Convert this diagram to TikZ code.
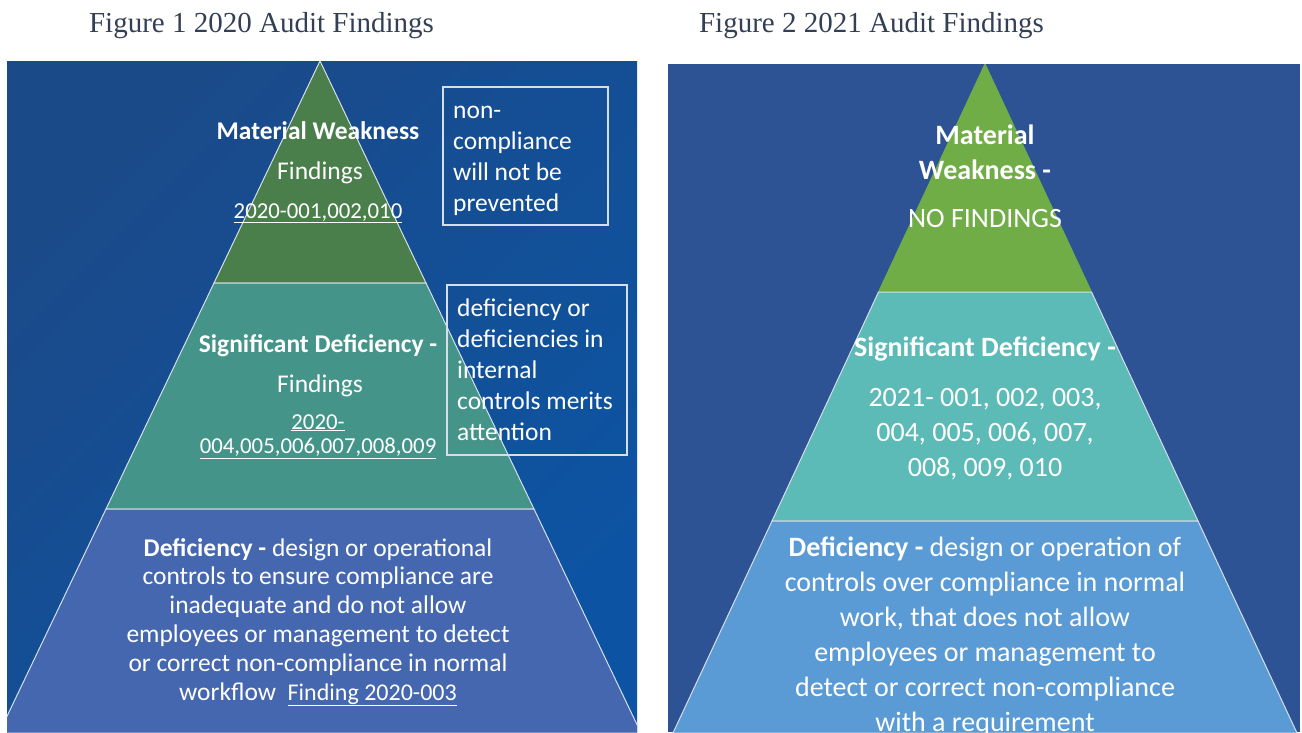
\documentclass[tikz,border=0pt]{standalone}
\usepackage{fontspec}
\setmainfont{Carlito}
\newfontfamily\titlefont{Liberation Serif}
\definecolor{titlecol}{HTML}{333F55}
\definecolor{bgA}{HTML}{1B4A89}
\definecolor{bgB}{HTML}{0C54A3}
\definecolor{lgreen}{HTML}{4A7F4B}
\definecolor{lteal}{HTML}{459489}
\definecolor{lblue}{HTML}{4467AF}
\definecolor{rbg}{HTML}{2E5395}
\definecolor{rgreen}{HTML}{70AD47}
\definecolor{rteal}{HTML}{5CBAB7}
\definecolor{rblue}{HTML}{5B9BD5}
\definecolor{edgecol}{HTML}{D6DEE8}
\begin{document}
\begin{tikzpicture}[x=1pt,y=-1pt,
  titletext/.style={text=titlecol,font=\titlefont\fontsize{29}{34}\selectfont,inner sep=0pt,anchor=base},
  layer/.style={draw=edgecol,line width=1pt},
  wt/.style={text=white,inner sep=0pt,anchor=base},
  lhead/.style={wt,font=\fontsize{25.5}{28.8}\selectfont,align=center},
  lnum/.style={wt,font=\fontsize{22.8}{24.5}\selectfont,align=center},
  lbody/.style={wt,font=\fontsize{25.5}{28.8}\selectfont,align=center},
  lnote/.style={wt,font=\fontsize{25.5}{31}\selectfont,align=left,anchor=north west},
  rtext/.style={wt,font=\fontsize{28}{35}\selectfont,align=center},
  notebox/.style={draw=edgecol,line width=1.2pt}
]
\useasboundingbox (0,0) rectangle (1302,732);
\fill[white] (0,0) rectangle (1302,732);

% titles
\node[titletext] (t1) at (261.5,32) {Figure 1 2020 Audit Findings};
\node[titletext] (t2) at (871.5,32) {Figure 2 2021 Audit Findings};

% ---------- left panel ----------
\begin{scope}
\clip (7,61) rectangle (637,732);
\shade[top color=bgA,middle color=bgB,bottom color=bgB,shading angle=45] (7,61) rectangle (637,732);
\filldraw[layer,fill=lgreen] (320,61) -- (426,283) -- (214,283) -- cycle;
\filldraw[layer,fill=lteal] (214,283) -- (426,283) -- (534,509) -- (106,509) -- cycle;
\filldraw[layer,fill=lblue] (106,509) -- (534,509) -- (641,733) -- (-1,733) -- cycle;
\end{scope}

\node[lhead] (mw1) at (318,139) {\bfseries Material Weakness};
\node[lhead] (mwf) at (320,179) {Findings};
\node[lnum] (mwn) at (318,218) {\underline{2020-001,002,010}};
\node[lhead] (sd1) at (318,352) {\bfseries Significant Deficiency -};
\node[lhead] (sdf) at (320,392) {Findings};
\node[lnum,anchor=north] (sdn) at (318,414) {\underline{2020-}\\\underline{004,005,006,007,008,009}};
\node[lbody,anchor=north] (df1) at (318,538) {\textbf{Deficiency -} design or operational\\
controls to ensure compliance are\\
inadequate and do not allow\\
employees or management to detect\\
or correct non-compliance in normal\\
workflow\ \ {\fontsize{24}{28.8}\selectfont\underline{Finding 2020-003}}};

\draw[notebox] (443,87) rectangle (608,225);
\node[lnote] (n1) at (453,106) {non-\\compliance\\will not be\\prevented};
\draw[notebox] (447,285) rectangle (627,455);
\node[lnote] (n2) at (457,299) {deficiency or\\deficiencies in\\internal\\controls merits\\attention};

% ---------- right panel ----------
\begin{scope}
\clip (668,64) rectangle (1300,732);
\fill[rbg] (668,64) rectangle (1300,732);
\filldraw[layer,fill=rgreen,draw=rgreen] (985,64) -- (1091.5,292) -- (878.5,292) -- cycle;
\filldraw[layer,fill=rteal] (878.5,292) -- (1091.5,292) -- (1198,521) -- (772,521) -- cycle;
\filldraw[layer,fill=rblue] (772,521) -- (1198,521) -- (1297,733) -- (673,733) -- cycle;
\node[rtext,anchor=north] (rd) at (985,537) {\textbf{Deficiency -} design or operation of\\
controls over compliance in normal\\
work, that does not allow\\
employees or management to\\
detect or correct non-compliance\\
with a requirement};
\end{scope}

\node[rtext,anchor=north] (rmw) at (985,125) {\bfseries Material\\\bfseries Weakness -};
\node[rtext] (rnf) at (985,227) {NO FINDINGS};
\node[rtext] (rsd) at (985,356) {\bfseries Significant Deficiency -};
\node[rtext,anchor=north] (rsn) at (985,388) {2021- 001, 002, 003,\\004, 005, 006, 007,\\008, 009, 010};
\end{tikzpicture}
\end{document}
